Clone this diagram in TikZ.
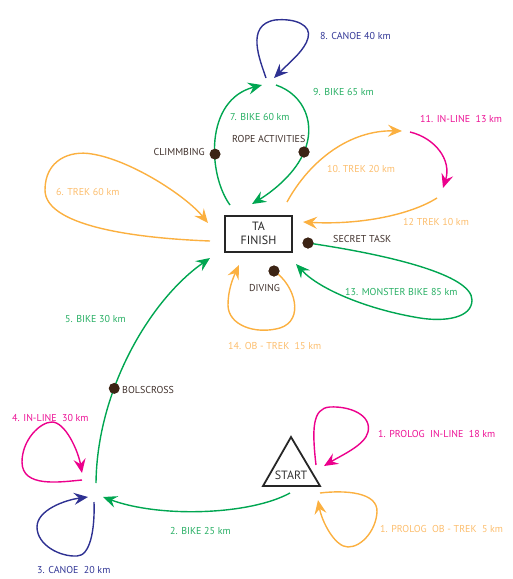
\documentclass[tikz,border=0pt]{standalone}
\usepackage{fontspec}
\setmainfont{PT Sans}
\usetikzlibrary{arrows.meta}
\definecolor{cgreen}{RGB}{0,166,81}
\definecolor{corange}{RGB}{251,176,64}
\definecolor{cpink}{RGB}{236,0,140}
\definecolor{cblue}{RGB}{46,49,146}
\definecolor{cdot}{RGB}{60,36,21}
\definecolor{tgreen}{RGB}{40,175,100}
\definecolor{torange}{RGB}{252,190,110}
\definecolor{tpink}{RGB}{236,20,150}
\definecolor{tblue}{RGB}{50,55,150}
\definecolor{tdark}{RGB}{65,50,45}
\tikzset{
  conn/.style={line width=1.4pt, -{Stealth[length=14pt,width=12pt,inset=5pt]}},
  gline/.style={conn, draw=cgreen},
  oline/.style={conn, draw=corange},
  pline/.style={conn, draw=cpink},
  bline/.style={conn, draw=cblue},
  lbl/.style={anchor=west, inner sep=0pt, font=\fontsize{10}{12}\selectfont},
  glbl/.style={lbl, text=tgreen},
  olbl/.style={lbl, text=torange},
  plbl/.style={lbl, text=tpink},
  blbl/.style={lbl, text=tblue},
  dlbl/.style={lbl, text=tdark},
  dotnode/.style={circle, fill=cdot, minimum size=11pt, inner sep=0pt},
  finishbox/.style={draw=black!85, line width=2pt, minimum width=67pt, minimum height=36pt,
     align=center, inner sep=0pt, font=\fontsize{12}{14}\selectfont, text=black!85},
}
\begin{document}
\begin{tikzpicture}[x=1pt,y=-1pt]
\useasboundingbox (0,0) rectangle (512,579);
% main nodes
\node[finishbox] (finish) at (258.5,233.5) {TA\\FINISH};
\coordinate (apex) at (291,437);
\coordinate (bl) at (263,486);
\coordinate (br) at (320,486);
\draw[line width=1.8pt, draw=black!85, line join=miter] (apex) -- (bl) -- (br) -- cycle;
\node[inner sep=0pt, font=\fontsize{12}{14}\selectfont, text=black!80] (start) at (291,475) {START};

% hub coordinates
\coordinate (s1a) at (316,465); \coordinate (s1b) at (324,466);
\coordinate (s2a) at (320,493); \coordinate (s2b) at (318,500);
\coordinate (s3) at (290,493);
\coordinate (h2) at (103,497);
\coordinate (h4a) at (82,480); \coordinate (h4b) at (82,473);
\coordinate (h3a) at (94,502); \coordinate (h3b) at (88,497);
\coordinate (h5) at (96,483);
\coordinate (f5) at (210,258);
\coordinate (f6a) at (210,241); \coordinate (f6b) at (208,223);
\coordinate (f7) at (230,205);
\coordinate (t7) at (262,85);
\coordinate (t9) at (276,85);
\coordinate (f9) at (252,204);
\coordinate (t8a) at (266,78); \coordinate (t8b) at (274,78);
\coordinate (f10) at (287,202);
\coordinate (r10) at (402,131);
\coordinate (r11) at (410,132);
\coordinate (r11b) at (443,188);
\coordinate (r12) at (437,198);
\coordinate (f12) at (303,222);
\coordinate (f13) at (296,264);
\coordinate (f14) at (239,265);

% dots
\node[dotnode] (rope) at (304,152) {};
\node[dotnode] (secret) at (308,243) {};
\node[dotnode] (diving) at (274,271) {};

% 1. prolog in-line
\draw[pline] (s1a) .. controls (312,430) and (312,408) .. (330,407)
  .. controls (350,406) and (372,415) .. (368,432)
  .. controls (365,445) and (342,455) .. (s1b);
% 1. prolog ob-trek
\draw[oline] (s2a) .. controls (345,490) and (378,492) .. (377,512)
  .. controls (376,530) and (362,547) .. (348,547)
  .. controls (335,547) and (322,522) .. (s2b);
% 2. bike 25
\draw[gline] (s3) .. controls (250,515) and (160,518) .. (h2);
% 4. in-line 30
\draw[pline] (h4a) .. controls (60,482) and (22,488) .. (22,462)
  .. controls (22,440) and (40,422) .. (52,422)
  .. controls (65,422) and (78,450) .. (h4b);
% 3. canoe 20
\draw[bline] (h3a) .. controls (95,530) and (90,556) .. (77,556)
  .. controls (60,557) and (37,545) .. (37,527)
  .. controls (37,510) and (65,500) .. (h3b);
% 5. bike 30 with bolscross
\draw[gline] (h5) .. controls (97,390) and (150,300) .. node[dotnode, pos=0.35] (bols) {} (f5);
% 6. trek 60
\draw[oline] (f6a) .. controls (130,238) and (45,225) .. (45,190)
  .. controls (45,160) and (70,150) .. (92,154)
  .. controls (130,160) and (185,195) .. (f6b);
% 7. bike 60 with climbing
\draw[gline] (f7) .. controls (208,175) and (204,100) .. node[dotnode, pos=0.4] (climb) {} (t7);
% 9. bike 65 via rope activities
\draw[gline] (t9) .. controls (305,95) and (316,125) .. (rope.center)
  .. controls (296,172) and (275,190) .. (f9);
% 8. canoe 40
\draw[bline] (t8a) .. controls (260,60) and (245,25) .. (275,20)
  .. controls (295,18) and (312,25) .. (308,38)
  .. controls (305,50) and (290,62) .. (t8b);
% 10. trek 20
\draw[oline] (f10) .. controls (310,160) and (350,130) .. (r10);
% 11. in-line 13
\draw[pline] (r11) .. controls (435,138) and (452,160) .. (r11b);
% 12. trek 10
\draw[oline] (r12) .. controls (410,215) and (360,225) .. (f12);
% 13. monster bike
\draw[gline] (secret.center) .. controls (390,255) and (472,275) .. (472,300)
  .. controls (472,318) and (445,322) .. (420,318)
  .. controls (370,310) and (320,290) .. (f13);
% 14. ob-trek 15
\draw[oline] (diving.center) .. controls (295,285) and (305,320) .. (280,328)
  .. controls (255,335) and (228,325) .. (228,305)
  .. controls (228,290) and (233,278) .. (f14);
\node[dotnode] at (secret) {};
\node[dotnode] at (diving) {};
\node[dotnode] at (rope) {};

% labels
\node[blbl] (l8) at (320,36) {8. CANOE 40 km};
\node[glbl] (l9) at (313,92) {9. BIKE 65 km};
\node[glbl] (l7) at (230,117) {7. BIKE 60 km};
\node[dlbl, anchor=east] (lclimb) at (205,152) {CLIMMBING};
\node[dlbl] (lrope) at (232,139) {ROPE ACTIVITIES};
\node[plbl] (l11) at (420,119) {11. IN-LINE\ \ 13 km};
\node[olbl] (l10) at (327,169) {10.\ TREK 20 km};
\node[olbl] (l6) at (56,192) {6. TREK 60 km};
\node[olbl] (l12) at (403,222) {12 TREK 10 km};
\node[dlbl] (lsecret) at (333,239) {SECRET TASK};
\node[dlbl] (ldiving) at (249,288) {DIVING};
\node[glbl] (l13) at (345,292) {13. MONSTER BIKE 85 km};
\node[glbl] (l5) at (65,319) {5. BIKE 30 km};
\node[olbl] (l14) at (228,346) {14. OB - TREK\ \ 15 km};
\node[dlbl] (lbols) at (122,390) {BOLSCROSS};
\node[plbl] (l4) at (12,418) {4. IN-LINE\ \ 30 km};
\node[plbl] (l1a) at (378,434) {1. PROLOG\ \ IN-LINE\ \ 18 km};
\node[olbl] (l1b) at (380,529) {1. PROLOG\ \ OB - TREK\ \ 5 km};
\node[glbl] (l2) at (170,531) {2. BIKE 25 km};
\node[blbl] (l3) at (37,570) {3. CANOE\ \ 20 km};
\end{tikzpicture}
\end{document}
